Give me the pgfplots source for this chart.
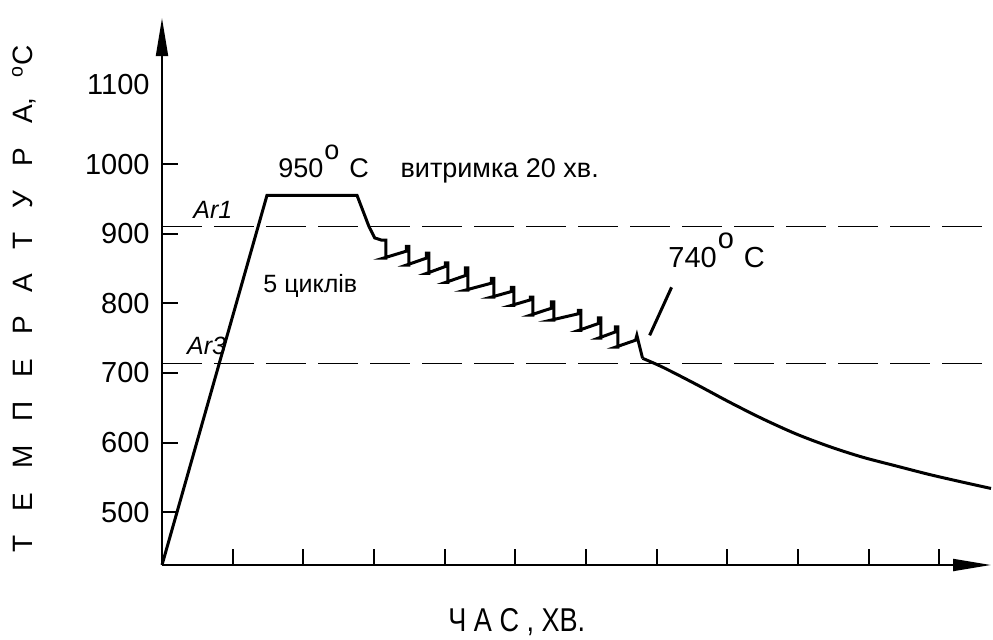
\documentclass[border=0pt]{standalone}
\usepackage{fontspec}
\setmainfont{Liberation Sans}
\usepackage{graphicx}
\usepackage{pgfplots}
\pgfplotsset{compat=1.18}
\usetikzlibrary{arrows.meta}
\newcommand\Sp{\hspace{12pt}}
\newcommand\degO{\hspace{0.5pt}\raisebox{0.66em}{o}\hspace{5pt}}
\begin{document}
\begin{tikzpicture}
\path[use as bounding box] (0,0) rectangle (496.5pt,319.5pt);
\begin{axis}[
  at={(81pt,37pt)}, anchor=south west,
  scale only axis, width=414.5pt, height=273.5pt,
  xmin=0, xmax=11.73, ymin=424, ymax=1210,
  axis lines=left,
  axis line style={line width=1pt, -{Triangle[length=19pt,width=6pt]}},
  tick align=inside,
  major tick length=8pt,
  tick style={line width=1pt, black},
  xtick={1,...,11}, xticklabels={},
  ytick={500,600,700,800,900,1000},
  extra y ticks={1100},
  extra y tick style={tick style={draw=none}, tick label style={yshift=5pt}},
  yticklabel style={font=\fontsize{14.5}{16}\selectfont, inner xsep=0pt, xshift=-6pt},
  /pgf/number format/assume math mode=true,
  /pgf/number format/1000 sep={},
  clip=false,
]
% critical temperature lines
\addplot[line width=0.5pt, dash pattern=on 20pt off 6pt] coordinates {(0,910) (11.73,910)};
\addplot[line width=0.5pt, dash pattern=on 20pt off 6pt] coordinates {(0,714) (11.73,714)};
% heating, holding and cycling
\addplot[line width=1.5pt, line join=miter] coordinates {
(0,424) (1.485,955) (2.76,955) (2.93,910) (3.01,894) (3.10,891)
(3.134,891) (3.169,891) (3.169,865) (3.134,865)
(3.459,875) (3.459,882) (3.494,882) (3.494,855) (3.459,855)
(3.742,865) (3.742,872) (3.777,872) (3.777,843) (3.742,843)
(4.011,853) (4.011,858) (4.046,858) (4.046,830) (4.011,830)
(4.294,840) (4.294,851) (4.329,851) (4.329,819) (4.294,819)
(4.662,829) (4.662,836) (4.697,836) (4.697,809) (4.662,809)
(4.945,817) (4.945,823) (4.980,823) (4.980,797) (4.945,797)
(5.213,805) (5.213,809) (5.248,809) (5.248,783) (5.213,783)
(5.510,793) (5.510,802) (5.545,802) (5.545,776) (5.510,776)
(5.892,785) (5.892,790) (5.927,790) (5.927,761) (5.892,761)
(6.175,771) (6.175,779) (6.210,779) (6.210,750) (6.175,750)
(6.416,759) (6.416,766) (6.451,766) (6.451,737) (6.416,737)
(6.700,747) (6.719,754) (6.80,721)
};
% cooling
\addplot[line width=1.5pt, smooth] coordinates {
(6.80,721) (7.09,708) (7.57,683) (8.03,658) (8.50,634) (8.98,612)
(9.45,594) (9.91,579) (10.40,566) (10.86,554) (11.33,543) (11.73,534)
};
% pointer to 740
\addplot[line width=1.5pt] coordinates {(6.90,754) (7.21,823)};
\node[anchor=base west, inner sep=0pt, font=\fontsize{13.5}{15}\selectfont] at (axis cs:1.64,981) {950\degO C};
\node[anchor=base west, inner sep=0pt, font=\fontsize{13.5}{15}\selectfont] at (axis cs:3.37,981) {витримка 20 хв.};
\node[anchor=base west, inner sep=0pt, font=\fontsize{12.5}{15}\selectfont\itshape] at (axis cs:0.44,922) {Ar1};
\node[anchor=base west, inner sep=0pt, font=\fontsize{12.5}{15}\selectfont\itshape] at (axis cs:0.35,726) {Ar3};
\node[anchor=base west, inner sep=0pt, font=\fontsize{12.5}{15}\selectfont] at (axis cs:1.43,815) {5 циклів};
\node[anchor=base west, inner sep=0pt, font=\fontsize{14.5}{16}\selectfont] at (axis cs:7.16,851) {740\degO C};
\end{axis}
\node[rotate=90, anchor=base west, inner sep=0pt, font=\fontsize{14}{16}\selectfont] at (16.5pt,43pt)
  {Т\Sp Е\Sp М\Sp П\Sp Е\Sp Р\Sp А\Sp Т\Sp У\Sp Р\Sp А,\hspace{10pt}\textsuperscript{o}С};
\node[anchor=base west, inner sep=0pt, font=\fontsize{16.5}{18}\selectfont] at (224pt,4pt)
  {\scalebox{0.82}[1]{Ч А С , ХВ.}};
\end{tikzpicture}
\end{document}
